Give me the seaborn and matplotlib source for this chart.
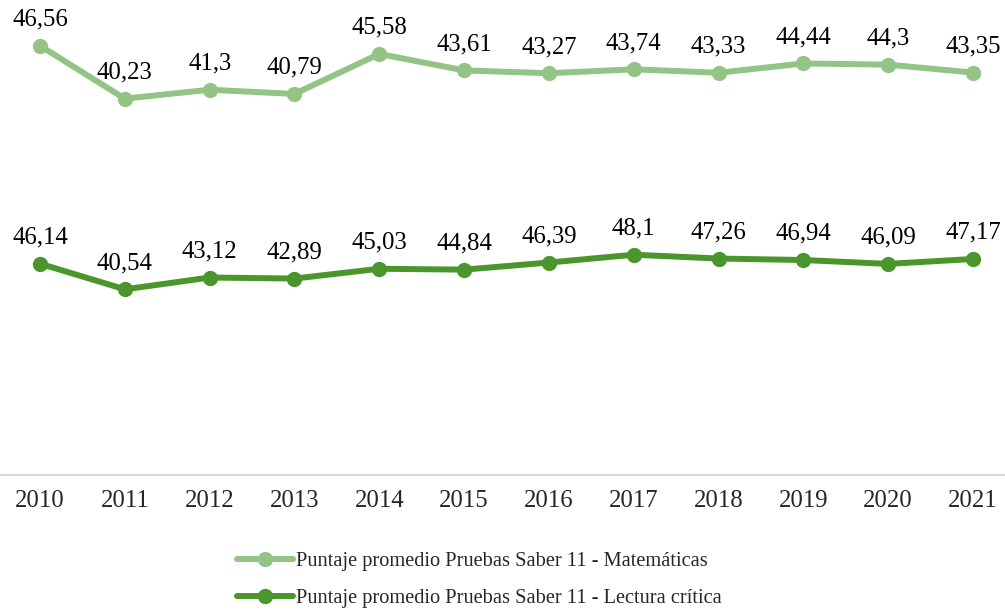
import matplotlib.pyplot as plt
import seaborn as sns

# datos
years = [2010, 2011, 2012, 2013, 2014, 2015, 2016, 2017, 2018, 2019, 2020, 2021]
matematicas = [46.56, 40.23, 41.3, 40.79, 45.58, 43.61, 43.27, 43.74, 43.33, 44.44, 44.3, 43.35]
lectura = [46.14, 40.54, 43.12, 42.89, 45.03, 44.84, 46.39, 48.1, 47.26, 46.94, 46.09, 47.17]
lbl_mat = 'Puntaje promedio Pruebas Saber 11 - Matemáticas'
lbl_lec = 'Puntaje promedio Pruebas Saber 11 - Lectura crítica'

c_mat = '#93C385'
c_lec = '#4A962C'

sns.set_style('white')
plt.rcParams['font.family'] = ['Liberation Serif', 'DejaVu Serif']

fig = plt.figure(figsize=(10.05, 6.10), dpi=100)
W, H = 1005, 610
ax = fig.add_axes([-2.4 / W, (H - 475) / H, 1017.8 / W, (475 - 17) / H])
ax2 = ax.twinx()

# eje primario (lectura) y secundario (matemáticas)
sns.lineplot(x=years, y=lectura, ax=ax, color=c_lec, lw=4.3, marker='o',
             markersize=11, markeredgewidth=0, label=lbl_lec, legend=False)
sns.lineplot(x=years, y=matematicas, ax=ax2, color=c_mat, lw=4.3, marker='o',
             markersize=11, markeredgewidth=0, label=lbl_mat, legend=False)

ax.set_ylim(0, 100)
ax2.set_ylim(-4.8, 50.0)
ax.set_xlim(2009.5, 2021.5)

for a, vals in ((ax, lectura), (ax2, matematicas)):
    for x, v in zip(years, vals):
        a.annotate(f'{v:g}'.replace('.', ','), (x, v), xytext=(0, 14.5),
                   textcoords='offset points', ha='center', va='baseline',
                   fontsize=17.8, color='#000000')

for a in (ax, ax2):
    for s in ('top', 'left', 'right'):
        a.spines[s].set_visible(False)
    a.set_yticks([])
    a.set_ylabel('')
    a.grid(False)
ax2.spines['bottom'].set_visible(False)
ax.spines['bottom'].set_color('#D9D9D9')
ax.spines['bottom'].set_linewidth(1.5)

ax.set_xticks(years)
ax.set_xticklabels([str(y) for y in years], fontsize=17.8)
ax.tick_params(axis='x', length=0, pad=11)
ax.patch.set_alpha(0)

handles = [ax2.get_lines()[0], ax.get_lines()[0]]
fig.legend(handles, [lbl_mat, lbl_lec], loc='lower center',
           bbox_to_anchor=(0.477, -0.027), frameon=False, fontsize=14.7,
           handlelength=2.75, handletextpad=0.15, labelspacing=0.85)

fig.savefig('out.png', dpi=100)
